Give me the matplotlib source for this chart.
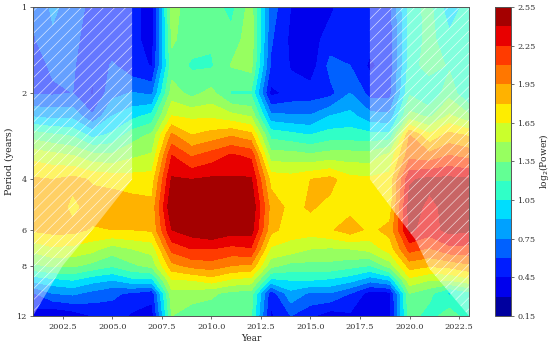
import matplotlib
matplotlib.use("Agg")
import matplotlib.pyplot as plt
import numpy as np
from matplotlib.ticker import FixedLocator, FixedFormatter, NullLocator

plt.rcParams["font.family"] = "DejaVu Serif"
plt.rcParams["hatch.linewidth"] = 0.45

years = np.arange(2001, 2024)
periods = [1, 1.3, 1.6, 2, 2.4, 2.8, 3.3, 4, 5, 6, 7, 8, 9, 10, 12]
levels = np.arange(0.15, 2.56, 0.15)
cbar_ticks = [0.15, 0.45, 0.75, 1.05, 1.35, 1.65, 1.95, 2.25, 2.55]
xticks = [2002.5, 2005, 2007.5, 2010, 2012.5, 2015, 2017.5, 2020, 2022.5]
yticks = [1, 2, 4, 6, 8, 12]

# one row per year, one value per entry in periods
power = np.array([
    [0.62, 0.58, 0.55, 0.58, 0.88, 1.28, 1.60, 1.82, 1.92, 1.82, 1.55, 1.32, 0.95, 0.58, 0.38],  # 2001
    [0.78, 0.72, 0.62, 0.58, 0.85, 1.22, 1.55, 1.80, 1.92, 1.85, 1.62, 1.38, 1.00, 0.75, 0.28],  # 2002
    [0.68, 0.63, 0.62, 0.60, 0.85, 1.18, 1.50, 1.85, 1.75, 1.85, 1.60, 1.38, 1.05, 0.78, 0.35],  # 2003
    [0.55, 0.54, 0.48, 0.43, 0.62, 1.00, 1.40, 1.78, 1.88, 1.78, 1.55, 1.30, 0.95, 0.70, 0.45],  # 2004
    [0.44, 0.50, 0.62, 0.70, 0.90, 1.08, 1.38, 1.75, 1.90, 1.80, 1.42, 1.22, 0.90, 0.62, 0.55],  # 2005
    [0.50, 0.50, 0.50, 0.76, 1.00, 1.28, 1.47, 1.72, 1.88, 1.80, 1.50, 1.32, 1.00, 0.58, 0.42],  # 2006
    [0.38, 0.38, 0.44, 0.72, 1.10, 1.38, 1.52, 1.72, 1.85, 1.82, 1.55, 1.40, 1.00, 0.50, 0.38],  # 2007
    [1.40, 1.38, 1.28, 1.42, 1.65, 1.98, 2.25, 2.42, 2.54, 2.40, 2.15, 1.90, 1.63, 1.45, 1.35],  # 2008
    [1.28, 1.25, 1.18, 1.30, 1.62, 1.80, 2.08, 2.40, 2.54, 2.48, 2.25, 2.00, 1.65, 1.43, 1.25],  # 2009
    [1.27, 1.22, 1.18, 1.40, 1.62, 1.86, 2.17, 2.43, 2.54, 2.54, 2.25, 2.03, 1.72, 1.38, 1.25],  # 2010
    [1.15, 1.25, 1.36, 1.18, 1.55, 1.93, 2.27, 2.42, 2.54, 2.47, 2.20, 1.95, 1.62, 1.30, 1.25],  # 2011
    [1.42, 1.45, 1.40, 1.18, 1.48, 1.85, 2.22, 2.42, 2.54, 2.47, 2.23, 1.92, 1.58, 1.28, 1.22],  # 2012
    [0.68, 0.62, 0.58, 0.40, 0.80, 1.15, 1.42, 1.75, 1.90, 1.85, 1.62, 1.40, 1.00, 0.50, 0.42],  # 2013
    [0.45, 0.42, 0.44, 0.50, 0.77, 1.10, 1.42, 1.72, 1.75, 1.72, 1.58, 1.30, 1.05, 0.85, 0.60],  # 2014
    [0.38, 0.38, 0.36, 0.52, 0.76, 1.05, 1.38, 1.80, 1.82, 1.72, 1.50, 1.30, 1.05, 0.72, 0.48],  # 2015
    [0.42, 0.52, 0.65, 0.55, 0.90, 1.12, 1.42, 1.85, 1.75, 1.78, 1.48, 1.30, 1.02, 0.74, 0.35],  # 2016
    [0.55, 0.55, 0.60, 0.75, 0.95, 1.12, 1.42, 1.70, 1.75, 1.88, 1.50, 1.25, 0.95, 0.60, 0.42],  # 2017
    [0.52, 0.50, 0.42, 0.55, 0.80, 1.10, 1.42, 1.68, 1.70, 1.76, 1.55, 1.20, 0.80, 0.38, 0.38],  # 2018
    [0.55, 0.52, 0.52, 0.55, 0.78, 1.10, 1.55, 1.70, 1.72, 1.85, 1.72, 1.42, 0.90, 0.40, 0.40],  # 2019
    [1.12, 1.10, 1.12, 1.18, 1.40, 1.95, 2.05, 2.38, 2.47, 2.43, 2.15, 1.87, 1.60, 1.35, 1.28],  # 2020
    [1.25, 1.25, 1.28, 1.04, 1.32, 1.68, 2.00, 2.44, 2.36, 2.33, 2.08, 1.82, 1.50, 1.25, 1.12],  # 2021
    [0.95, 1.10, 1.18, 1.30, 1.52, 1.85, 2.10, 2.44, 2.45, 2.45, 2.20, 1.85, 1.50, 1.02, 1.30],  # 2022
    [1.12, 1.12, 1.20, 1.04, 1.38, 1.78, 2.05, 2.42, 2.46, 2.42, 2.20, 1.92, 1.60, 1.15, 1.10],  # 2023
])

# cone of influence, edge of the hatched areas
coi_left_years = [2001, 2002.5, 2004.2, 2006, 2006]
coi_left_periods = [12, 8, 5.76, 4, 1]
coi_right_years = [2018, 2018, 2019.05, 2020.3, 2021, 2023]
coi_right_periods = [1, 4, 5, 6.5, 8.2, 12]

fig = plt.figure(figsize=(5.5, 3.44), dpi=100)
ax = fig.add_axes([33 / 550, 28 / 344, 436 / 550, 309 / 344])
cax = fig.add_axes([495 / 550, 28 / 344, 16 / 550, 309 / 344])

cf = ax.contourf(years, periods, power.T, levels=levels, cmap="jet")

for xs, ys in ((coi_left_years, coi_left_periods), (coi_right_years, coi_right_periods)):
    ax.fill_between(xs, ys, 1, facecolor=(1, 1, 1, 0.4), edgecolor=(1, 1, 1, 0.8),
                    hatch="///", linewidth=0)

ax.set_yscale("log", base=2)
ax.set_ylim(12, 1)
ax.set_xlim(2001, 2023)
ax.yaxis.set_major_locator(FixedLocator(yticks))
ax.yaxis.set_major_formatter(FixedFormatter([str(t) for t in yticks]))
ax.yaxis.set_minor_locator(NullLocator())
ax.set_xticks(xticks)
ax.set_xticklabels([f"{t:.1f}" for t in xticks])
ax.tick_params(labelsize=5.9, length=2.2, width=0.5, pad=2.5, colors="#333333")
ax.set_xlabel("Year", fontsize=6.5, labelpad=2.5, color="#222222")
ax.set_ylabel("Period (years)", fontsize=6.8, labelpad=1.5, color="#222222")

cbar = fig.colorbar(cf, cax=cax, ticks=cbar_ticks)
cbar.ax.set_yticklabels([f"{t:.2f}" for t in cbar_ticks])
cbar.ax.tick_params(labelsize=5.9, length=2.2, width=0.5, pad=2.5, colors="#333333")
cbar.set_label("log$_2$(Power)", fontsize=6.5, labelpad=1, color="#222222")

for spine in list(ax.spines.values()) + list(cbar.ax.spines.values()):
    spine.set_linewidth(0.7)
    spine.set_color("#555555")

fig.savefig("out.png", dpi=100)
